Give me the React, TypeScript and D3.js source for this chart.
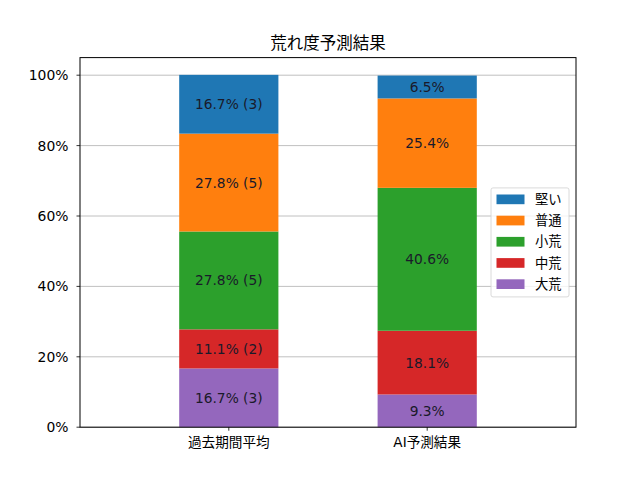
import React from "react";
import * as d3 from "d3";

const categories = ["過去期間平均", "AI予測結果"];
const seriesNames = ["大荒", "中荒", "小荒", "普通", "堅い"];
const seriesColors = ["#9467bd", "#d62728", "#2ca02c", "#ff7f0e", "#1f77b4"];
const pastValues = [16.7, 11.1, 27.8, 27.8, 16.7];
const pastCounts = [3, 2, 5, 5, 3];
const aiValues = [9.3, 18.1, 40.6, 25.4, 6.5];
const yTicks = [0, 20, 40, 60, 80, 100];
const title = "荒れ度予測結果";

const W = 640, H = 480;
const L = 80, R = 576, T = 57.6, B = 427.2;
const FONT = "'DejaVu Sans', 'Noto Sans CJK JP', sans-serif";

export default function App() {
  const x = d3.scaleLinear().domain([-0.75, 1.75]).range([L, R]);
  const y = d3.scaleLinear().domain([0, 105]).range([B, T]);
  const barW = x(0.5) - x(0);

  const rows = [
    { vals: pastValues, labels: pastValues.map((v, i) => `${v.toFixed(1)}% (${pastCounts[i]})`) },
    { vals: aiValues, labels: aiValues.map((v) => `${v.toFixed(1)}%`) },
  ];

  const stacks = rows.map((r) => {
    let acc = 0;
    return r.vals.map((v, i) => {
      const s = { y0: acc, y1: acc + v, label: r.labels[i], color: seriesColors[i] };
      acc += v;
      return s;
    });
  });

  const legendItems = seriesNames.map((n, i) => ({ n, c: seriesColors[i] })).reverse();
  const legW = 78, legH = 109;
  const legX = R - 7 - legW;
  const legY = (T + B) / 2 - legH / 2;

  return (
    <svg width={W} height={H} style={{ position: "absolute", left: 0, top: 0, background: "#fff" }} fontFamily={FONT}>
      <rect x={0} y={0} width={W} height={H} fill="#fff" />
      {yTicks.map((t) => (
        <line key={"g" + t} x1={L} x2={R} y1={y(t)} y2={y(t)} stroke="#b0b0b0" strokeWidth={0.8} />
      ))}
      {stacks.map((st, ci) =>
        st.map((s, si) => (
          <g key={ci + "-" + si}>
            <rect x={x(ci) - barW / 2} width={barW} y={y(s.y1)} height={y(s.y0) - y(s.y1)} fill={s.color} />
            <text x={x(ci)} y={(y(s.y0) + y(s.y1)) / 2} textAnchor="middle" dominantBaseline="central" fontSize={13.8} fill="#1a1a2a">
              {s.label}
            </text>
          </g>
        ))
      )}
      <rect x={L} y={T} width={R - L} height={B - T} fill="none" stroke="#000" strokeWidth={1} />
      {yTicks.map((t) => (
        <g key={"y" + t}>
          <line x1={L - 3.5} x2={L} y1={y(t)} y2={y(t)} stroke="#000" strokeWidth={0.8} />
          <text x={L - 11.5} y={y(t)} textAnchor="end" dominantBaseline="central" fontSize={13.9} fill="#000">
            {t}%
          </text>
        </g>
      ))}
      {categories.map((c, i) => (
        <g key={"x" + i}>
          <line x1={x(i)} x2={x(i)} y1={B} y2={B + 3.5} stroke="#000" strokeWidth={0.8} />
          <text x={x(i)} y={B + 9} textAnchor="middle" dominantBaseline="hanging" fontSize={13.6} fill="#000">
            {c}
          </text>
        </g>
      ))}
      <text x={(L + R) / 2} y={T - 8.3} textAnchor="middle" fontSize={16.5} fill="#000">
        {title}
      </text>
      <rect x={legX} y={legY} width={legW} height={legH} rx={2} fill="#fff" fillOpacity={0.8} stroke="#d0d0d0" strokeWidth={0.8} />
      {legendItems.map((it, i) => {
        const cy = legY + 11.5 + i * 21.2;
        return (
          <g key={"l" + i}>
            <rect x={legX + 5.5} y={cy - 4.9} width={28} height={9.7} fill={it.c} />
            <text x={legX + 44} y={cy} dominantBaseline="central" fontSize={13.3} fill="#000">
              {it.n}
            </text>
          </g>
        );
      })}
    </svg>
  );
}
